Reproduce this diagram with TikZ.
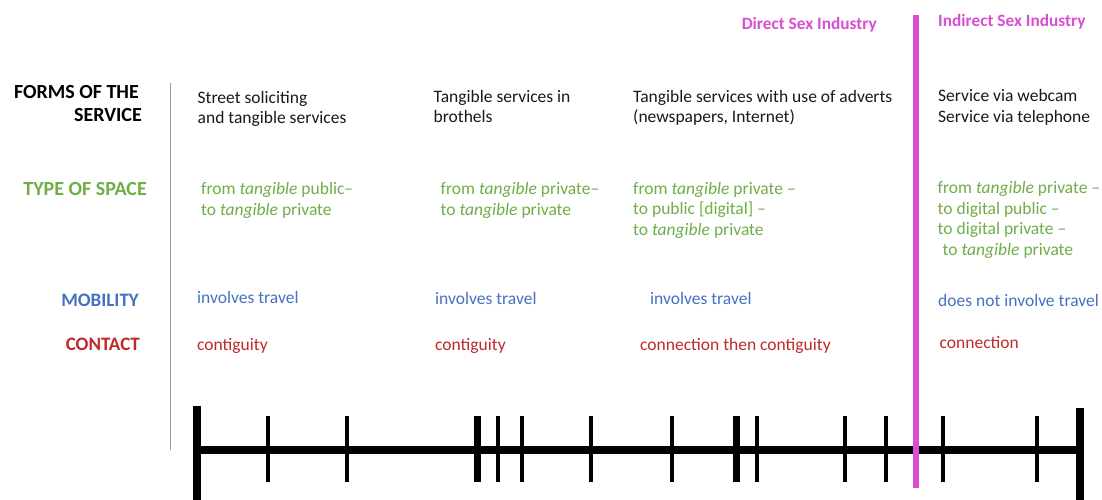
\documentclass[tikz,border=0pt]{standalone}
\usepackage{fontspec}
\setmainfont{Carlito}
\definecolor{spacegreen}{HTML}{6FAE48}
\definecolor{mobblue}{HTML}{4671C2}
\definecolor{conred}{HTML}{C0282B}
\definecolor{industry}{HTML}{D94FD3}
\definecolor{divider}{HTML}{9A9A9A}
\tikzset{
  % multi-line nodes: the base anchor sits on the baseline of the last line
  body/.style={font=\fontsize{17.5}{20.5}\selectfont, align=left, inner sep=0pt, anchor=base west},
  rowlabel/.style={font=\fontsize{19}{22}\selectfont\bfseries, inner sep=0pt, anchor=base east},
  biglabel/.style={rowlabel, font=\fontsize{20}{22}\selectfont\bfseries},
  sectorlabel/.style={font=\fontsize{17.3}{20}\selectfont\bfseries, text=industry, inner sep=0pt, anchor=base west},
  axisline/.style={line width=8.5pt, black},
  thintick/.style={line width=4pt, black},
  thicktick/.style={line width=7pt, black},
  endbar/.style={line width=8.5pt, black},
}
\begin{document}
\begin{tikzpicture}[x=1pt,y=-1pt]
\useasboundingbox (0,0) rectangle (1102,500);
\fill[white] (0,0) rectangle (1102,500);

% row labels
\node[biglabel] (formsA) at (139,99) {FORMS OF THE};
\node[biglabel] (formsB) at (142,121.5) {SERVICE};
\node[biglabel, text=spacegreen] (space) at (147,195) {TYPE OF SPACE};
\node[rowlabel, text=mobblue] (mobility) at (139,306) {MOBILITY};
\node[rowlabel, text=conred] (contact) at (140,350) {CONTACT};

% divider between labels and columns
\coordinate (divtop) at (170.5,83);
\coordinate (divbot) at (170.5,450);
\draw[divider, line width=1.5pt] (divtop) -- (divbot);

% sector headings
\node[sectorlabel, anchor=base east] (direct) at (877,30) {Direct Sex Industry};
\node[sectorlabel] (indirect) at (938,27) {Indirect Sex Industry};

% column 1
\node[body, text=black!90] (f1) at (197.5,123.5) {Street soliciting\\and tangible services};
\node[body, text=spacegreen] (s1) at (201,215) {from \textit{tangible} public–\\to \textit{tangible} private};
\node[body, text=mobblue] (m1) at (197,303.5) {involves travel};
\node[body, text=conred] (c1) at (197,350) {contiguity};

% column 2
\node[body, text=black!90] (f2) at (433.5,123) {Tangible services in\\brothels};
\node[body, text=spacegreen] (s2) at (440.5,215) {from \textit{tangible} private–\\to \textit{tangible} private};
\node[body, text=mobblue] (m2) at (435,304) {involves travel};
\node[body, text=conred] (c2) at (435,350) {contiguity};

% column 3
\node[body, text=black!90] (f3) at (633,122.5) {Tangible services with use of adverts\\(newspapers, Internet)};
\node[body, text=spacegreen] (s3) at (633,235) {from \textit{tangible} private –\\to public [digital] –\\to \textit{tangible} private};
\node[body, text=mobblue] (m3) at (650,304) {involves travel};
\node[body, text=conred] (c3) at (640,350) {connection then contiguity};

% column 4
\node[body, text=black!90] (f4) at (938,122) {Service via webcam\\Service via telephone};
\node[body, text=spacegreen] (s4) at (937.5,255) {from \textit{tangible} private –\\to digital public –\\to digital private –\\\hspace*{5pt}to \textit{tangible} private};
\node[body, text=mobblue] (m4) at (938,306) {does not involve travel};
\node[body, text=conred] (c4) at (939.5,348.5) {connection};

% timeline axis
\coordinate (axL) at (197,450);
\coordinate (axR) at (1080,450);
\draw[axisline] (axL) -- (axR);
\draw[endbar] (197,406) -- (197,502);
\draw[endbar] (1080,408) -- (1080,502);
\foreach \x in {267.5,347,498,522,591,671.5,757,845,886,943,1037}
  \draw[thintick] (\x,416) -- (\x,482);
\foreach \x in {477,736}
  \draw[thicktick] (\x,416) -- (\x,482);

% boundary between direct and indirect sex industry
\coordinate (sepTop) at (916,15);
\coordinate (sepBot) at (916,488);
\draw[industry, line width=6.5pt] (sepTop) -- (sepBot);
\end{tikzpicture}
\end{document}
